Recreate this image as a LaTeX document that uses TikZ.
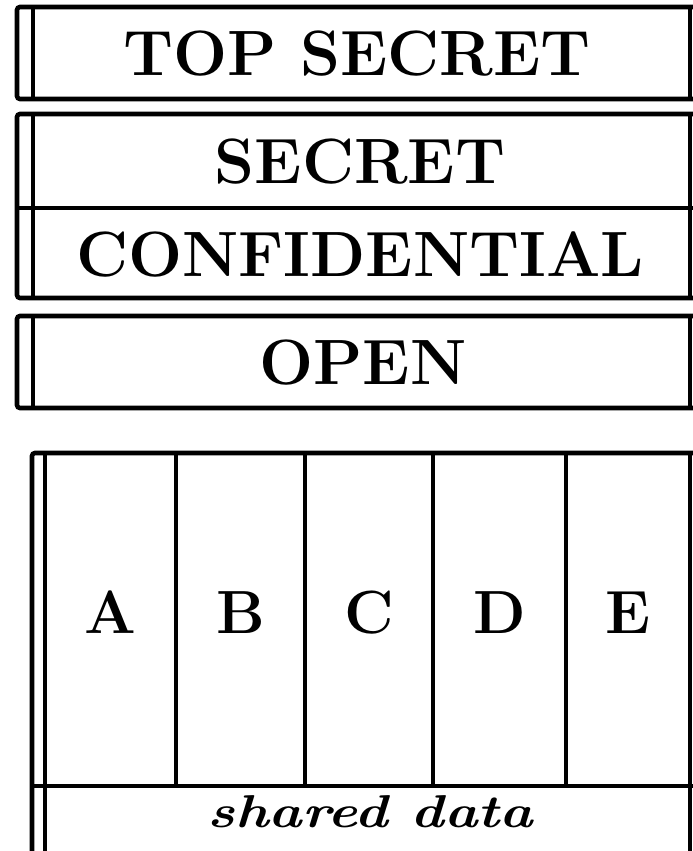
\documentclass[tikz,border=0pt]{standalone}
\begin{document}
\begin{tikzpicture}[x=1pt,y=-1pt,
  rule/.style={line width=4.6pt, line cap=butt},
  big/.style={font=\fontsize{64}{64}\selectfont\bfseries, inner sep=0pt},
  letter/.style={font=\fontsize{61}{61}\selectfont\bfseries, inner sep=0pt},
  shared/.style={font=\bfseries\itshape, inner sep=0pt}]
\useasboundingbox (0,0) rectangle (693,851);
\clip (0,0) rectangle (693,851);
% Box 1: TOP SECRET
\draw[rule, rounded corners=3pt] (700,7) -- (17,7) -- (17,99) -- (700,99);
\draw[rule] (33,7) -- (33,99);
\draw[rule] (690,7) -- (690,99);
% Box 2: SECRET / CONFIDENTIAL
\draw[rule, rounded corners=3pt] (700,114) -- (17,114) -- (17,298) -- (700,298);
\draw[rule] (33,114) -- (33,298);
\draw[rule] (690,114) -- (690,298);
\draw[rule] (17,208) -- (700,208);
% Box 3: OPEN
\draw[rule, rounded corners=3pt] (700,316) -- (17,316) -- (17,408) -- (700,408);
\draw[rule] (33,316) -- (33,408);
\draw[rule] (690,316) -- (690,408);
% Box 4: compartments
\draw[rule, rounded corners=3pt] (700,453) -- (32,453) -- (32,860);
\draw[rule] (45,453) -- (45,860);
\draw[rule] (32,786) -- (700,786);
\foreach \xx in {176,305,433,566,690} \draw[rule] (\xx,453) -- (\xx,786);
\draw[rule] (690,786) -- (690,860);
% Texts
\node[big, anchor=base] (ts) at (357,75) {TOP SECRET};
\node[big, anchor=base] (sec) at (360,183) {SECRET};
\node[big, anchor=base] (conf) at (360,276) {CONFIDENTIAL};
\node[big, anchor=base] (open) at (363,384) {OPEN};
\node[letter, anchor=base] (A) at (110.5,633) {A};
\node[letter, anchor=base] (B) at (240.5,633) {B};
\node[letter, anchor=base] (C) at (369,633) {C};
\node[letter, anchor=base] (D) at (499.5,633) {D};
\node[letter, anchor=base] (E) at (628,633) {E};
\node[shared, anchor=base] (sd) at (370.5,827) {\resizebox{325pt}{32pt}{\bfseries\itshape shared data}};
\end{tikzpicture}
\end{document}
